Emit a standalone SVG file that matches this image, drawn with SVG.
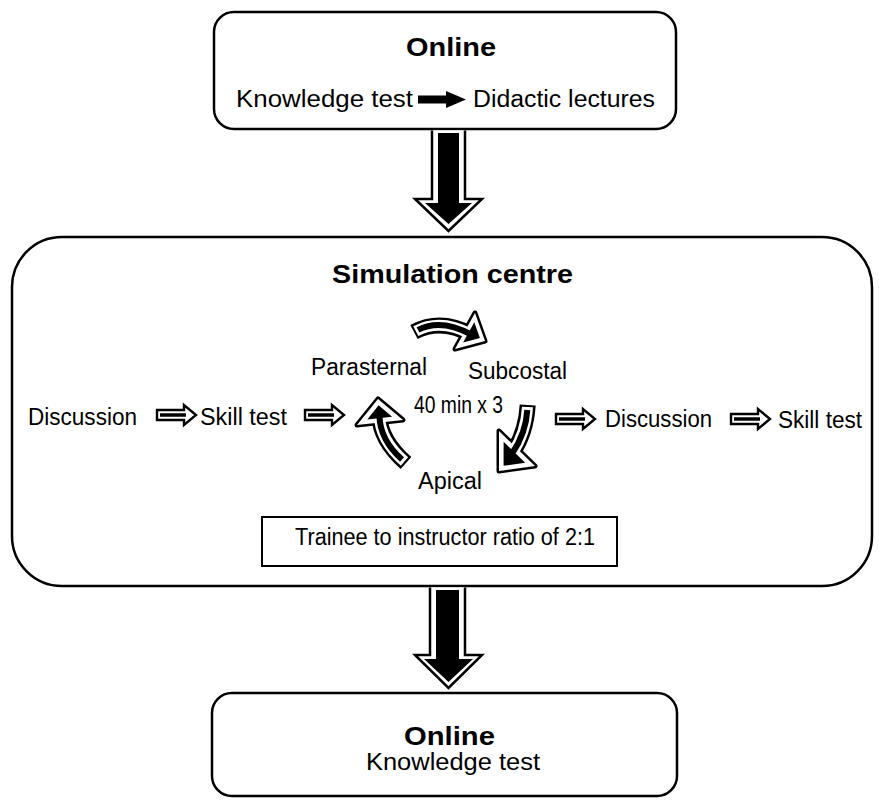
<svg xmlns="http://www.w3.org/2000/svg" width="879" height="805" viewBox="0 0 879 805">
<defs>
<style>
.box{fill:#fff;stroke:#000;stroke-width:2.5}
.t{font-family:"Liberation Sans",Arial,Helvetica,sans-serif;fill:#000;font-size:23.5px}
.b{font-weight:bold;font-size:26px}
.big{fill:#fff;stroke:#000;stroke-width:2.5;stroke-linejoin:miter}
.co{fill:none;stroke:#000;stroke-width:16}
.cw{fill:none;stroke:#fff;stroke-width:11}
.cb{fill:none;stroke:#000;stroke-width:6}
.ho{fill:#000;stroke:#000;stroke-width:5;stroke-linejoin:round}
.hw{fill:#fff}
.hb{fill:#000}
.ha{fill:#fff;stroke:#000;stroke-width:2.4}
</style>
<g id="hollow">
<path class="ha" d="M0,-5 H27 V-10 L39,0 L27,10 V5 H0 Z"/>
<path d="M3,0 H29" stroke="#000" stroke-width="3.5"/>
</g>
</defs>
<rect width="879" height="805" fill="#fff"/>

<g id="node-online-top">
<rect class="box" x="214" y="12" width="462" height="117" rx="20"/>
<text class="t b" x="406" y="56" textLength="90" lengthAdjust="spacingAndGlyphs">Online</text>
<text class="t" x="236" y="107" font-size="25.5" textLength="177" lengthAdjust="spacingAndGlyphs">Knowledge test</text>
<text class="t" x="473" y="107" font-size="25.5" textLength="182" lengthAdjust="spacingAndGlyphs">Didactic lectures</text>
</g>

<g id="node-simulation">
<rect class="box" x="12" y="237" width="860" height="349" rx="50"/>
<text class="t b" x="332" y="283" textLength="241" lengthAdjust="spacingAndGlyphs">Simulation centre</text>
<text class="t" x="311" y="375" textLength="116" lengthAdjust="spacingAndGlyphs">Parasternal</text>
<text class="t" x="468" y="379" textLength="99" lengthAdjust="spacingAndGlyphs">Subcostal</text>
<text class="t" x="414" y="413" font-size="20" textLength="89" lengthAdjust="spacingAndGlyphs">40 min x 3</text>
<text class="t" x="418" y="489" textLength="64" lengthAdjust="spacingAndGlyphs">Apical</text>
<text class="t" x="28" y="425" textLength="109" lengthAdjust="spacingAndGlyphs">Discussion</text>
<text class="t" x="200" y="425" textLength="87" lengthAdjust="spacingAndGlyphs">Skill test</text>
<text class="t" x="605" y="427" textLength="107" lengthAdjust="spacingAndGlyphs">Discussion</text>
<text class="t" x="778" y="428" textLength="84" lengthAdjust="spacingAndGlyphs">Skill test</text>
</g>

<g id="node-ratio">
<rect x="262" y="517" width="355" height="49" fill="#fff" stroke="#000" stroke-width="2"/>
<text class="t" x="295" y="545" font-size="20.5" textLength="300" lengthAdjust="spacingAndGlyphs">Trainee to instructor ratio of 2:1</text>
</g>

<g id="node-online-bottom">
<rect class="box" x="212" y="693" width="465" height="103" rx="20"/>
<text class="t b" x="404" y="745" textLength="91" lengthAdjust="spacingAndGlyphs">Online</text>
<text class="t" x="366" y="770" font-size="25.5" textLength="174" lengthAdjust="spacingAndGlyphs">Knowledge test</text>
</g>

<g id="connectors">
<path d="M418,95.5 H446 V91 L466,99.5 L446,108 V103.5 H418 Z" fill="#000"/>
<path class="big" d="M432,130.5 V199 H415 L448.5,231 L482,199 H465 V130.5"/>
<path d="M438,133 H459 V203 H472 L448.5,224 L425,203 H438 Z" fill="#000"/>
<path class="big" d="M430,587.5 V655 H415 L448.5,688 L482,655 H465 V587.5"/>
<path d="M436,590 H459 V659 H473 L448.5,682 L424,659 H436 Z" fill="#000"/>
<use href="#hollow" transform="translate(157,415)"/>
<use href="#hollow" transform="translate(305,415)"/>
<use href="#hollow" transform="translate(556,419)"/>
<use href="#hollow" transform="translate(731,419)"/>
<g id="curve-top">
<path class="co" d="M414,332 Q441,318 471,334.4"/>
<polygon class="ho" points="475,313 485,341 455,349"/>
<path class="cw" d="M415.8,331.1 Q441,318 471,334.4"/>
<polygon class="hw" points="475,313 485,341 455,349"/>
<path class="cb" d="M418,329.9 Q441,318 471,334.4"/>
<polygon class="hb" points="474.3,322.2 479.9,337.9 463.1,342.4"/>
</g>
<g id="curve-right">
<path class="co" d="M527.7,405 Q526,433 512.1,453.5"/>
<polygon class="ho" points="499,431 535,466 499,471"/>
<path class="cw" d="M527.5,407 Q526,433 512.1,453.5"/>
<polygon class="hw" points="499,431 535,466 499,471"/>
<path class="cb" d="M527.3,410 Q526,433 512.1,453.5"/>
<polygon class="hb" points="503.6,441.8 525.2,462.8 503.6,465.8"/>
</g>
<g id="curve-left">
<path class="co" d="M406,463 Q380,440 379.4,415.5"/>
<polygon class="ho" points="357,425 378,399 403,420"/>
<path class="cw" d="M404.5,461.5 Q380,440 379.4,415.5"/>
<polygon class="hw" points="357,425 378,399 403,420"/>
<path class="cb" d="M402,459.4 Q380,440 379.4,415.5"/>
<polygon class="hb" points="367.3,419.4 378.6,405.3 392.1,416.7"/>
</g>
</g>
</svg>
